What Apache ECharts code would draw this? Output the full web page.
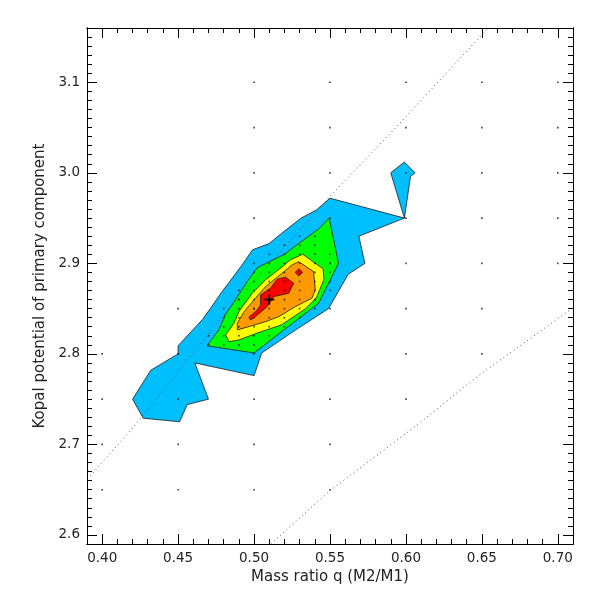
<!DOCTYPE html>
<html>
<head>
<meta charset="utf-8">
<script src="https://cdn.jsdelivr.net/npm/echarts@6/dist/echarts.min.js"></script>
<style>html,body{margin:0;padding:0;background:#fff}#chart{width:600px;height:600px}</style>
</head>
<body>
<div id="chart"></div>
<script>
// ---------------- DATA ----------------
const xMajorTicks = [0.40, 0.45, 0.50, 0.55, 0.60, 0.65, 0.70];
const yMajorTicks = [2.6, 2.7, 2.8, 2.9, 3.0, 3.1];
const xTitle = 'Mass ratio q (M2/M1)';
const yTitle = 'Kopal potential of primary component';

// contour levels (outer to inner), vertices as [q, potential]
const blueContour = [
  [0.550,2.972],[0.599,2.950],[0.590,3.000],[0.599,3.012],[0.606,3.000],[0.603,2.996],[0.599,2.950],
  [0.569,2.930],[0.573,2.900],[0.562,2.888],[0.549,2.850],[0.527,2.826],[0.505,2.801],[0.500,2.776],
  [0.461,2.790],[0.470,2.750],[0.456,2.744],[0.451,2.725],[0.427,2.729],[0.420,2.750],[0.432,2.782],
  [0.450,2.800],[0.450,2.809],[0.466,2.838],[0.472,2.852],[0.479,2.869],[0.484,2.880],[0.492,2.898],
  [0.499,2.915],[0.510,2.922],[0.518,2.933],[0.531,2.950],[0.541,2.959]
];
const greenContour = [
  [0.5495,2.950],[0.5556,2.900],[0.5425,2.856],[0.500,2.801],[0.469,2.809],[0.477,2.827],
  [0.481,2.843],[0.489,2.863],[0.4955,2.880],[0.502,2.895],[0.509,2.901],[0.520,2.910],
  [0.531,2.924],[0.5425,2.938]
];
const yellowContour = [
  [0.532,2.910],[0.5455,2.894],[0.546,2.882],[0.541,2.862],[0.534,2.850],[0.518,2.832],
  [0.502,2.823],[0.490,2.8154],[0.4835,2.8135],[0.4813,2.821],[0.4868,2.834],[0.4901,2.847],
  [0.4988,2.867],[0.5076,2.882],[0.5184,2.896],[0.5239,2.904]
];
const orangeContour = [
  [0.5294,2.9019],[0.5392,2.8909],[0.5403,2.8707],[0.5381,2.8615],[0.5272,2.8522],[0.5163,2.8412],
  [0.5076,2.8356],[0.4966,2.8301],[0.4889,2.8265],[0.489,2.834],[0.4935,2.8467],[0.4999,2.8596],
  [0.5076,2.8743],[0.5184,2.8891],[0.525,2.8983]
];
const redContour = [
  [0.5207,2.8847],[0.5261,2.8781],[0.5228,2.867],[0.513,2.8633],[0.5086,2.8522],[0.5010,2.8412],
  [0.4977,2.8375],[0.4966,2.8405],[0.5021,2.8486],[0.5043,2.8541],[0.5043,2.8651],[0.5108,2.8725],
  [0.5152,2.8825]
];
const redIsland = [[0.5270,2.8900],[0.5295,2.8940],[0.5320,2.8900],[0.5295,2.8860]];

// best-fit marker
const bestFit = [0.51, 2.86];

// dotted critical-potential curves
const innerCurve = [[0.392,2.665],[0.420,2.718],[0.477,2.837],[0.550,2.974],[0.595,3.053],[0.653,3.158],[0.6545,3.160]];
const outerCurve = [[0.511,2.590],[0.550,2.649],[0.607,2.721],[0.647,2.775],[0.710,2.851]];

// sampled grid points
const coarseDots = [
  [0.40,2.65],[0.40,2.70],[0.40,2.75],[0.40,2.80],
  [0.45,2.65],[0.45,2.70],[0.45,2.75],[0.45,2.80],[0.45,2.85],
  [0.50,2.65],[0.50,2.70],[0.50,2.75],[0.50,2.80],[0.50,2.85],[0.50,2.90],[0.50,2.95],[0.50,3.00],[0.50,3.05],[0.50,3.10],
  [0.55,2.65],[0.55,2.70],[0.55,2.75],[0.55,2.80],[0.55,2.85],[0.55,2.90],[0.55,2.95],[0.55,3.00],[0.55,3.05],[0.55,3.10],
  [0.60,2.75],[0.60,2.80],[0.60,2.85],[0.60,2.90],[0.60,2.95],[0.60,3.00],[0.60,3.05],[0.60,3.10],
  [0.65,2.80],[0.65,2.85],[0.65,2.90],[0.65,2.95],[0.65,3.00],[0.65,3.05],[0.65,3.10],
  [0.70,2.90],[0.70,2.95],[0.70,3.00],[0.70,3.05],[0.70,3.10]
];
const fineDots = [
  [0.53,2.93],[0.54,2.93],
  [0.52,2.92],[0.53,2.92],[0.54,2.92],
  [0.51,2.91],[0.52,2.91],[0.53,2.91],[0.54,2.91],[0.55,2.91],
  [0.51,2.90],[0.52,2.90],[0.53,2.90],[0.54,2.90],[0.55,2.90],
  [0.50,2.89],[0.51,2.89],[0.52,2.89],[0.53,2.89],[0.54,2.89],[0.55,2.89],
  [0.50,2.88],[0.51,2.88],[0.52,2.88],[0.53,2.88],[0.54,2.88],[0.55,2.88],
  [0.49,2.87],[0.50,2.87],[0.51,2.87],[0.52,2.87],[0.53,2.87],[0.54,2.87],[0.55,2.87],
  [0.49,2.86],[0.50,2.86],[0.51,2.86],[0.52,2.86],[0.53,2.86],[0.54,2.86],
  [0.48,2.85],[0.49,2.85],[0.50,2.85],[0.51,2.85],[0.52,2.85],[0.53,2.85],[0.54,2.85],
  [0.48,2.84],[0.49,2.84],[0.50,2.84],[0.51,2.84],[0.52,2.84],[0.53,2.84],
  [0.48,2.83],[0.49,2.83],[0.50,2.83],[0.51,2.83],[0.52,2.83],
  [0.47,2.82],[0.48,2.82],[0.49,2.82],[0.50,2.82],[0.51,2.82],
  [0.47,2.81],[0.48,2.81],[0.49,2.81],[0.50,2.81]
];

// ---------------- CHART ----------------
const contours = [blueContour, greenContour, yellowContour, orangeContour, redContour, redIsland];
const contourColors = ['#00bfff', '#00ff00', '#ffff00', '#ff9900', '#ff0000', '#ff0000'];

const xMinorTicks = [], yMinorTicks = [];
for (let i = 40; i <= 70; i++) if (i % 5 !== 0) xMinorTicks.push(i / 100);
for (let i = 260; i <= 315; i++) if (i % 10 !== 0) yMinorTicks.push(i / 100);

const FONT = 'DejaVu Sans';
const X_MIN = 0.39, X_MAX = 0.71, Y_MIN = 2.59, Y_MAX = 3.16;
const axisCommon = { type: 'value', splitLine: { show: false }, axisLine: { onZero: false, lineStyle: { color: '#000', width: 1 } } };

function xAx(pos, ticks, len, labels) {
  return Object.assign({}, axisCommon, {
    position: pos, min: X_MIN, max: X_MAX,
    axisLine: { show: true, onZero: false, lineStyle: { color: '#000', width: 1 } },
    axisTick: { show: true, inside: true, length: len, customValues: ticks, lineStyle: { color: '#000', width: 1 } },
    axisLabel: labels ? { show: true, customValues: ticks, formatter: v => Number(v).toFixed(2), margin: 7, fontSize: 13.5, color: '#222', fontFamily: FONT } : { show: false }
  });
}
function yAx(pos, ticks, len, labels) {
  return Object.assign({}, axisCommon, {
    position: pos, min: Y_MIN, max: Y_MAX,
    axisLine: { show: true, onZero: false, lineStyle: { color: '#000', width: 1 } },
    axisTick: { show: true, inside: true, length: len, customValues: ticks, lineStyle: { color: '#000', width: 1 } },
    axisLabel: labels ? { show: true, customValues: ticks, formatter: v => Number(v).toFixed(1), margin: 7, fontSize: 13.5, color: '#222', fontFamily: FONT } : { show: false }
  });
}

const xAxes = [xAx('bottom', xMajorTicks, 10, true), xAx('bottom', xMinorTicks, 5, false), xAx('top', xMajorTicks, 10, false), xAx('top', xMinorTicks, 5, false)];
Object.assign(xAxes[0], { name: xTitle, nameLocation: 'middle', nameGap: 25, nameTextStyle: { fontFamily: FONT, fontSize: 15, color: '#222' } });
const yAxes = [yAx('left', yMajorTicks, 10, true), yAx('left', yMinorTicks, 5, false), yAx('right', yMajorTicks, 10, false), yAx('right', yMinorTicks, 5, false)];
Object.assign(yAxes[0], { name: yTitle, nameLocation: 'middle', nameGap: 33, nameTextStyle: { fontFamily: FONT, fontSize: 15, color: '#222' } });

const option = {
  animation: false,
  backgroundColor: '#fff',
  grid: { left: 87, right: 27, top: 28, bottom: 56, containLabel: false },
  xAxis: xAxes,
  yAxis: yAxes,
  series: [
    {
      type: 'custom', xAxisIndex: 0, yAxisIndex: 0, clip: true, silent: true,
      data: contours.map((c, i) => [c[0][0], c[0][1], i]),
      encode: { x: 0, y: 1 },
      renderItem: function (params, api) {
        const idx = api.value(2);
        const pts = contours[idx].map(p => api.coord(p));
        return { type: 'polygon', shape: { points: pts }, style: { fill: contourColors[idx], stroke: '#1a1a1a', lineWidth: 0.8 } };
      },
      z: 1
    },
    {
      type: 'scatter', xAxisIndex: 0, yAxisIndex: 0, silent: true,
      data: coarseDots.concat(fineDots), symbol: 'rect', symbolSize: 1.6,
      itemStyle: { color: '#111' }, z: 3
    },
    {
      type: 'line', xAxisIndex: 0, yAxisIndex: 0, silent: true, data: innerCurve, showSymbol: false, smooth: false,
      lineStyle: { color: '#555', width: 1, type: [1, 3.2] }, z: 4
    },
    {
      type: 'line', xAxisIndex: 0, yAxisIndex: 0, silent: true, data: outerCurve, showSymbol: false, smooth: false,
      lineStyle: { color: '#555', width: 1, type: [1, 3.2] }, z: 4
    },
    {
      type: 'custom', xAxisIndex: 0, yAxisIndex: 0, silent: true,
      data: [bestFit], encode: { x: 0, y: 1 },
      renderItem: function (params, api) {
        const c = api.coord([api.value(0), api.value(1)]);
        const s = 5;
        return { type: 'group', children: [
          { type: 'line', shape: { x1: c[0] - s, y1: c[1], x2: c[0] + s, y2: c[1] }, style: { stroke: '#000', lineWidth: 1.8 } },
          { type: 'line', shape: { x1: c[0], y1: c[1] - s, x2: c[0], y2: c[1] + s }, style: { stroke: '#000', lineWidth: 1.8 } }
        ] };
      },
      z: 5
    }
  ]
};

const chart = echarts.init(document.getElementById('chart'), null, { renderer: 'canvas' });
chart.setOption(option);
</script>
</body>
</html>
